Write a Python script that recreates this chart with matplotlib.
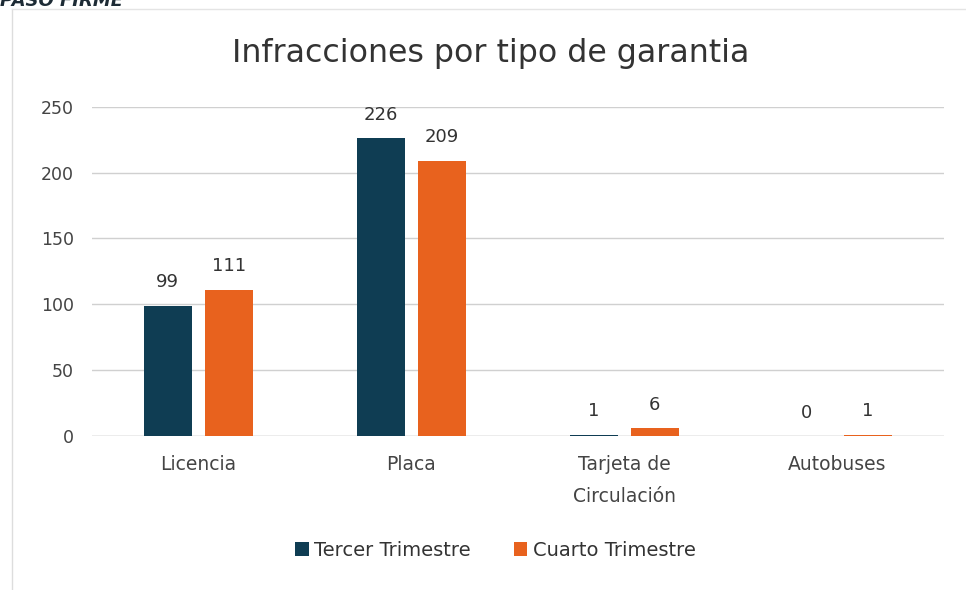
import matplotlib
matplotlib.use("Agg")
import matplotlib.pyplot as plt
import numpy as np

categories = ["Licencia", "Placa", "Tarjeta de\nCirculación", "Autobuses"]
series_names = ["Tercer Trimestre", "Cuarto Trimestre"]
tercer = [99, 226, 1, 0]
cuarto = [111, 209, 6, 1]
colors = ["#0F3D53", "#E8621E"]
y_ticks = [0, 50, 100, 150, 200, 250]

plt.rcParams["font.family"] = ["DejaVu Sans"]

fig = plt.figure(figsize=(9.66, 5.9), dpi=100)
ax = fig.add_axes([0.095, 0.261, 0.882, 0.558])

x = np.arange(len(categories))
w = 0.225
off = 0.143
for vals, color, name, sign in zip([tercer, cuarto], colors, series_names, [-1, 1]):
    bars = ax.bar(x + sign * off, vals, width=w, color=color, label=name, zorder=3)
    for b, v in zip(bars, vals):
        ax.text(b.get_x() + b.get_width() / 2, v + 11, str(v), ha="center", va="bottom",
                fontsize=13, color="#333333", clip_on=False)

ax.set_xlim(-0.5, len(categories) - 0.5)
ax.set_ylim(0, 250)
ax.set_yticks(y_ticks)
ax.set_xticks(x)
ax.set_xticklabels(categories, fontsize=13.5, color="#444444", linespacing=1.85)
ax.tick_params(axis="y", labelsize=12.5, colors="#444444", length=0, pad=13)
ax.tick_params(axis="x", length=0, pad=14)
ax.grid(axis="y", color="#d0d0d0", linewidth=1, zorder=0)
for s in ax.spines.values():
    s.set_visible(False)
ax.axhline(0, color="#c8c8c8", linewidth=1, zorder=2)

fig.text(0.508, 0.91, "Infracciones por tipo de garantia", ha="center", va="center",
         fontsize=22.8, color="#333333")
fig.text(0.0, 0.998, "PASO FIRME", ha="left", va="center", fontsize=13,
         fontweight="bold", fontstyle="italic", color="#1d2b35")

ax.legend(loc="center", bbox_to_anchor=(0.474, -0.347), ncol=2, frameon=False,
          fontsize=14, handlelength=0.7, handleheight=0.7, handletextpad=0.3,
          columnspacing=2.2, labelcolor="#333333")

# faint frame of the scanned chart box
fig.add_artist(plt.Line2D([0.012, 0.012], [0.0, 0.985], color="#dddddd", linewidth=1))
fig.add_artist(plt.Line2D([0.012, 1.0], [0.985, 0.985], color="#e4e4e4", linewidth=1))

fig.savefig("out.png", dpi=100)
